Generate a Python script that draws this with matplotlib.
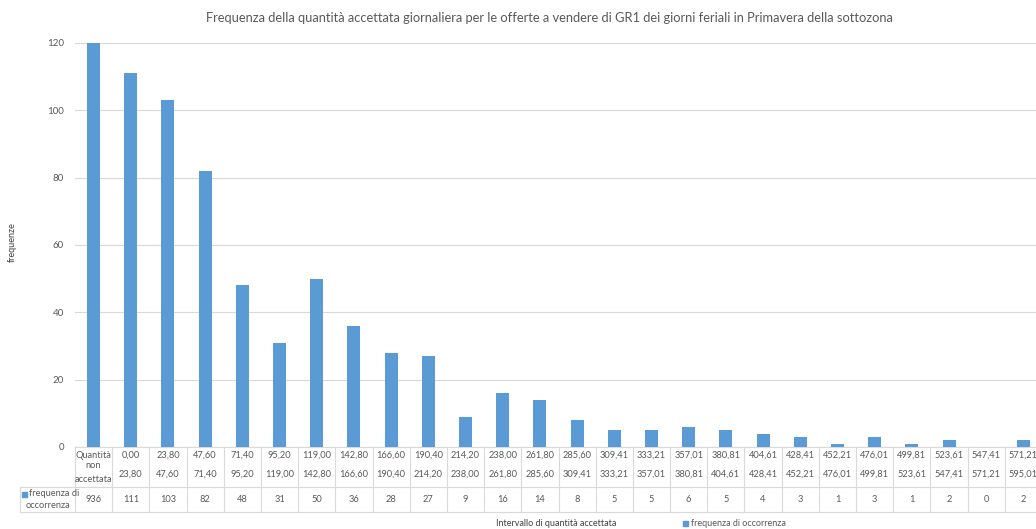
import matplotlib
matplotlib.use("Agg")
import matplotlib.pyplot as plt
from matplotlib.patches import Rectangle

plt.rcParams['font.family'] = ['Lato', 'DejaVu Sans']

title = "Frequenza della quantità accettata giornaliera per le offerte a vendere di GR1 dei giorni feriali in Primavera della sottozona"
lower = ["Quantità", "0,00", "23,80", "47,60", "71,40", "95,20", "119,00", "142,80", "166,60", "190,40",
         "214,20", "238,00", "261,80", "285,60", "309,41", "333,21", "357,01", "380,81", "404,61", "428,41",
         "452,21", "476,01", "499,81", "523,61", "547,41", "571,21"]
upper = ["", "23,80", "47,60", "71,40", "95,20", "119,00", "142,80", "166,60", "190,40", "214,20",
         "238,00", "261,80", "285,60", "309,41", "333,21", "357,01", "380,81", "404,61", "428,41", "452,21",
         "476,01", "499,81", "523,61", "547,41", "571,21", "595,01"]
values = [936, 111, 103, 82, 48, 31, 50, 36, 28, 27, 9, 16, 14, 8, 5, 5, 6, 5, 4, 3, 1, 3, 1, 2, 0, 2]
series_name = "frequenza di occorrenza"
yticks = [0, 20, 40, 60, 80, 100, 120]

W, H = 1036, 529
fig = plt.figure(figsize=(W / 100, H / 100), dpi=100)
fig.patch.set_facecolor('white')

def fx(px):
    return px / W

def fy(py):
    return 1 - py / H

left_px, right_px, top_px, bot_px = 75, 1042, 43, 447
ax = fig.add_axes([fx(left_px), fy(bot_px), fx(right_px - left_px), fy(top_px) - fy(bot_px)])
n = len(values)
x = list(range(n))
bar_color = '#5B9BD5'
ax.bar(x, values, width=0.35, color=bar_color, zorder=3)
ax.set_xlim(-0.5, n - 0.5)
ax.set_ylim(0, 120)
ax.set_yticks(yticks)
ax.set_yticklabels([str(v) for v in yticks], fontsize=7, color='#595959')
ax.tick_params(axis='y', length=0, pad=8)
ax.set_xticks([])
ax.grid(axis='y', color='#d9d9d9', linewidth=0.8, zorder=0)
for s in ['top', 'right', 'left']:
    ax.spines[s].set_visible(False)
ax.spines['bottom'].set_color('#d9d9d9')
ax.spines['bottom'].set_linewidth(0.8)

# Data table below axis
grid_c = '#d9d9d9'
col_w = (right_px - left_px) / n
row1_bottom = 487
row2_bottom = 512
tc = '#595959'
fs = 6.7
for i in range(n + 1):
    xp = left_px + i * col_w
    fig.add_artist(plt.Line2D([fx(xp), fx(xp)], [fy(bot_px), fy(row2_bottom)], color=grid_c, lw=0.8))
fig.add_artist(plt.Line2D([fx(20), fx(right_px)], [fy(row1_bottom), fy(row1_bottom)], color=grid_c, lw=0.8))
fig.add_artist(plt.Line2D([fx(20), fx(right_px)], [fy(row2_bottom), fy(row2_bottom)], color=grid_c, lw=0.8))
fig.add_artist(plt.Line2D([fx(20), fx(20)], [fy(row1_bottom), fy(row2_bottom)], color=grid_c, lw=0.8))

for i in range(n):
    cx = left_px + (i + 0.5) * col_w
    if i == 0:
        fig.text(fx(cx), fy(455), lower[i], ha='center', va='center', fontsize=fs, color=tc)
        fig.text(fx(cx), fy(466), "non", ha='center', va='center', fontsize=fs, color=tc)
        fig.text(fx(cx), fy(479), "accettata", ha='center', va='center', fontsize=fs, color=tc)
    else:
        fig.text(fx(cx), fy(455), lower[i], ha='center', va='center', fontsize=fs, color=tc)
        fig.text(fx(cx), fy(474), upper[i], ha='center', va='center', fontsize=fs, color=tc)
    fig.text(fx(cx), fy(500), str(values[i]), ha='center', va='center', fontsize=fs, color=tc)

# legend key inside table
fig.add_artist(Rectangle((fx(22), fy(497)), fx(5), fy(492) - fy(497), color=bar_color))
fig.text(fx(29), fy(494), "frequenza di", ha='left', va='center', fontsize=fs, color=tc)
fig.text(fx(48), fy(506), "occorrenza", ha='center', va='center', fontsize=fs, color=tc)

# Title, axis labels, legend
fig.text(fx(549), fy(18), title, ha='center', va='center', fontsize=9.3, color='#595959')
fig.text(fx(12), fy(242), "frequenze", ha='center', va='center', rotation=90, fontsize=6.5, color='#404040')
fig.text(fx(556), fy(523), "Intervallo di quantità accettata", ha='center', va='center', fontsize=6.5, color='#404040')
fig.add_artist(Rectangle((fx(683), fy(526)), fx(5), fy(521) - fy(526), color=bar_color))
fig.text(fx(691), fy(523), series_name, ha='left', va='center', fontsize=6.5, color='#595959')

fig.savefig('out.png', dpi=100, facecolor='white')
